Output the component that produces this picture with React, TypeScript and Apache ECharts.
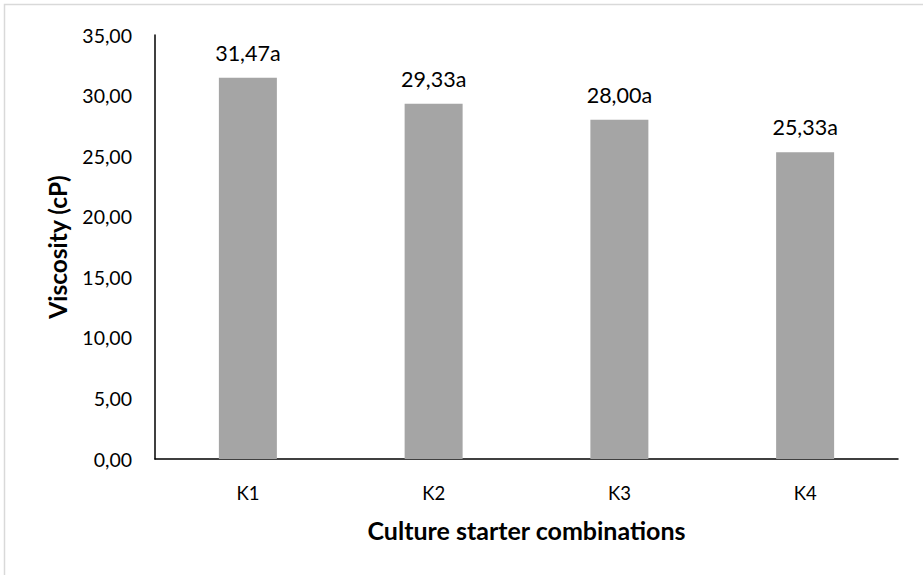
import React, { useEffect, useRef } from "react";
import * as echarts from "echarts";

const categories = ["K1", "K2", "K3", "K4"];
const values = [31.47, 29.33, 28.0, 25.33];
const letters = ["a", "a", "a", "a"];
const yTicks = { min: 0, max: 35, interval: 5 };

const FONT = "Lato";

export default function App() {
  const ref = useRef<HTMLDivElement>(null);
  useEffect(() => {
    document.body.style.margin = "0";
    const chart = echarts.init(ref.current!, null, { renderer: "svg" });
    chart.setOption({
      animation: false,
      backgroundColor: "#ffffff",
      graphic: [
        {
          type: "rect",
          shape: { x: 4.5, y: 4.5, width: 940, height: 600 },
          style: { fill: "none", stroke: "#d9d9d9", lineWidth: 1.5 },
          silent: true,
        },
      ],
      grid: { left: 155, right: 25, top: 35, bottom: 116, containLabel: false },
      xAxis: {
        type: "category",
        data: categories,
        axisLine: { show: true, lineStyle: { color: "#000", width: 1.5 } },
        axisTick: { show: false },
        axisLabel: { color: "#000", fontFamily: FONT, fontSize: 18.5, margin: 24 },
        name: "Culture starter combinations",
        nameLocation: "middle",
        nameGap: 58,
        nameTextStyle: { color: "#000", fontFamily: FONT, fontSize: 25, fontWeight: "bold" },
      },
      yAxis: {
        type: "value",
        min: yTicks.min,
        max: yTicks.max,
        interval: yTicks.interval,
        axisLine: { show: true, lineStyle: { color: "#000", width: 1.5 } },
        axisTick: { show: false },
        splitLine: { show: false },
        axisLabel: {
          color: "#000",
          fontFamily: FONT,
          fontSize: 19.5,
          margin: 23,
          formatter: (v: number) => v.toFixed(2).replace(".", ","),
        },
        name: "Viscosity (cP)",
        nameLocation: "middle",
        nameGap: 85,
        nameTextStyle: { color: "#000", fontFamily: FONT, fontSize: 24.5, fontWeight: "bold" },
      },
      series: [
        {
          type: "bar",
          data: values,
          barWidth: 58,
          itemStyle: { color: "#a5a5a5" },
          label: {
            show: true,
            position: "top",
            distance: 14,
            color: "#000",
            fontFamily: FONT,
            fontSize: 21.5,
            formatter: (p: any) => values[p.dataIndex].toFixed(2).replace(".", ",") + letters[p.dataIndex],
          },
        },
      ],
    });
    return () => chart.dispose();
  }, []);
  return <div ref={ref} style={{ width: 923, height: 575 }} />;
}
